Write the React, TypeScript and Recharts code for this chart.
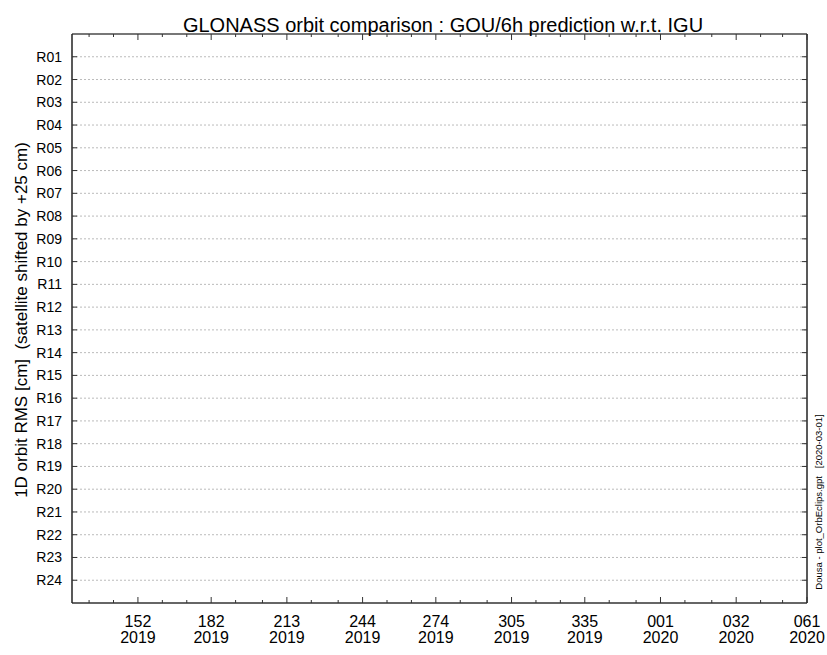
import { ComposedChart, XAxis, YAxis, CartesianGrid, Scatter } from 'recharts';

// satellites (one row each, 25 cm apart)
const SATELLITES = [
  'R01', 'R02', 'R03', 'R04', 'R05', 'R06', 'R07', 'R08', 'R09', 'R10', 'R11', 'R12',
  'R13', 'R14', 'R15', 'R16', 'R17', 'R18', 'R19', 'R20', 'R21', 'R22', 'R23', 'R24',
];

// x axis: days counted from 2019-01-01 (doy 2019)
const MAJOR_DAYS = [152, 182, 213, 244, 274, 305, 335, 366, 397, 426];
const DOY_LABELS = ['152', '182', '213', '244', '274', '305', '335', '001', '032', '061'];
const YEAR_LABELS = ['2019', '2019', '2019', '2019', '2019', '2019', '2019', '2020', '2020', '2020'];
const MINOR_DAYS = [
  132, 142, 162, 172, 192, 203, 223, 234, 254, 264, 284, 295, 315, 325, 345, 356,
  376, 387, 407, 416,
];
const X_DOMAIN = [125, 426];

// no orbit samples in this period
const RMS_POINTS: { day: number; rms: number }[] = [];

const FONT = '"Liberation Sans", Arial, Helvetica, sans-serif';
const ALL_X_TICKS = [...MAJOR_DAYS, ...MINOR_DAYS].sort((a, b) => a - b);
const Y_TICKS = SATELLITES.map((_, i) => i + 1);

const BottomTick = (props: any) => {
  const { x, y, payload } = props;
  const i = MAJOR_DAYS.indexOf(payload.value);
  if (i < 0) return <line x1={x} x2={x} y1={y} y2={y - 3} stroke="#333" />;
  return (
    <g>
      <line x1={x} x2={x} y1={y} y2={y - 6} stroke="#333" />
      <text x={x} y={y + 24} textAnchor="middle" fontSize={16} fill="#000" fontFamily={FONT}>
        {DOY_LABELS[i]}
      </text>
      <text x={x} y={y + 40} textAnchor="middle" fontSize={16} fill="#000" fontFamily={FONT}>
        {YEAR_LABELS[i]}
      </text>
    </g>
  );
};

const TopTick = (props: any) => {
  const { x, y, payload } = props;
  const len = MAJOR_DAYS.includes(payload.value) ? 6 : 3;
  return <line x1={x} x2={x} y1={y} y2={y + len} stroke="#333" />;
};

const LeftTick = (props: any) => {
  const { x, y, payload } = props;
  return (
    <g>
      <line x1={x} x2={x + 5} y1={y} y2={y} stroke="#333" />
      <text x={x - 10} y={y + 5} textAnchor="end" fontSize={14} fill="#000" fontFamily={FONT}>
        {SATELLITES[payload.value - 1]}
      </text>
    </g>
  );
};

const RightTick = (props: any) => {
  const { x, y } = props;
  return <line x1={x} x2={x - 5} y1={y} y2={y} stroke="#333" />;
};

const W = 827;
const H = 655;

const App = () => {
  return (
    <div
      style={{
        position: 'absolute',
        left: 0,
        top: 0,
        width: W,
        height: H,
        overflow: 'hidden',
        background: '#fff',
      }}
    >
      <ComposedChart
        width={W}
        height={H}
        data={RMS_POINTS}
        margin={{ top: 33, right: 19, bottom: 0, left: 32 }}
      >
        <CartesianGrid
          yAxisId="left"
          xAxisId="bottom"
          vertical={false}
          stroke="#aaa"
          strokeDasharray="2 2"
          strokeWidth={0.8}
        />
        <XAxis
          xAxisId="bottom"
          dataKey="day"
          type="number"
          domain={X_DOMAIN}
          ticks={ALL_X_TICKS}
          interval={0}
          tick={<BottomTick />}
          tickLine={false}
          tickSize={0}
          tickMargin={0}
          height={52}
          allowDataOverflow
          axisLine={{ stroke: '#666', strokeWidth: 2 }}
        />
        <XAxis
          xAxisId="top"
          orientation="top"
          dataKey="day"
          type="number"
          domain={X_DOMAIN}
          ticks={ALL_X_TICKS}
          interval={0}
          tick={<TopTick />}
          tickLine={false}
          tickSize={0}
          tickMargin={0}
          height={1}
          allowDataOverflow
          axisLine={{ stroke: '#777', strokeWidth: 2 }}
        />
        <YAxis
          yAxisId="left"
          type="number"
          domain={[0, 25]}
          reversed
          ticks={Y_TICKS}
          interval={0}
          tick={<LeftTick />}
          tickLine={false}
          tickSize={0}
          tickMargin={0}
          width={40}
          allowDataOverflow
          axisLine={{ stroke: '#222', strokeWidth: 1.5 }}
        />
        <YAxis
          yAxisId="right"
          orientation="right"
          type="number"
          domain={[0, 25]}
          reversed
          ticks={Y_TICKS}
          interval={0}
          tick={<RightTick />}
          tickLine={false}
          tickSize={0}
          tickMargin={0}
          width={1}
          allowDataOverflow
          axisLine={{ stroke: '#222', strokeWidth: 1.5 }}
        />
        <Scatter
          xAxisId="bottom"
          yAxisId="left"
          dataKey="rms"
          data={RMS_POINTS}
          fill="#d00"
          isAnimationActive={false}
        />
      </ComposedChart>
      <svg
        width={W}
        height={H}
        style={{ position: 'absolute', left: 0, top: 0, pointerEvents: 'none' }}
      >
        <text x={443} y={32} textAnchor="middle" fontSize={20} fill="#000" fontFamily={FONT}>
          GLONASS orbit comparison : GOU/6h prediction w.r.t. IGU
        </text>
        <text
          transform="translate(27,320) rotate(-90)"
          textAnchor="middle"
          fontSize={17}
          fill="#000"
          fontFamily={FONT}
          style={{ whiteSpace: 'pre' }}
        >
          {'1D orbit RMS [cm]  (satellite shifted by +25 cm)'}
        </text>
        <text
          transform="translate(822,502) rotate(-90)"
          textAnchor="middle"
          fontSize={9.5}
          fill="#000"
          fontFamily={FONT}
          style={{ whiteSpace: 'pre' }}
        >
          {'Dousa - plot_OrbEclips.gpt   [2020-03-01]'}
        </text>
      </svg>
    </div>
  );
};

export default App;
